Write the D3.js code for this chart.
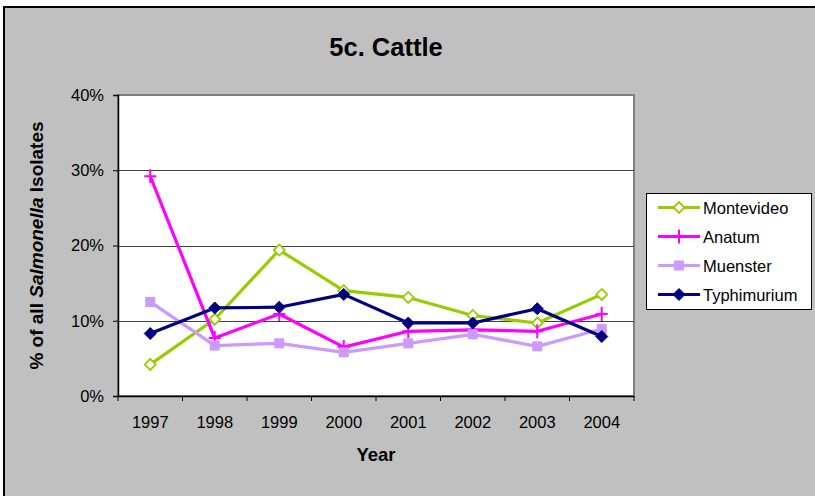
<!DOCTYPE html>
<html>
<head>
<meta charset="utf-8">
<script src="https://cdn.jsdelivr.net/npm/d3@7"></script>
<style>
  body { margin: 0; background: #ffffff; }
  text { font-family: "Liberation Sans", Arial, sans-serif; fill: #000; }
</style>
</head>
<body>
<div id="chart"></div>
<script>
// values (percent of all Salmonella isolates)
var years = ["1997", "1998", "1999", "2000", "2001", "2002", "2003", "2004"];
var montevideo = [4.2, 10.2, 19.4, 14.0, 13.1, 10.7, 9.7, 13.5];
var anatum = [29.2, 7.7, 10.9, 6.5, 8.6, 8.8, 8.6, 10.9];
var muenster = [12.5, 6.7, 7.0, 5.8, 7.0, 8.2, 6.6, 8.9];
var typhimurium = [8.3, 11.7, 11.8, 13.5, 9.7, 9.7, 11.6, 7.9];
var yTicks = [0, 10, 20, 30, 40];

var series = [
  {name: "Montevideo", values: montevideo, color: "#99CC00", marker: "diamondOpen"},
  {name: "Anatum", values: anatum, color: "#FF00FF", marker: "plus"},
  {name: "Muenster", values: muenster, color: "#CC99FF", marker: "square"},
  {name: "Typhimurium", values: typhimurium, color: "#000080", marker: "diamond"}
];

var W = 815, H = 496;
var plot = {left: 118, right: 634, top: 95, bottom: 396};

var svg = d3.select("#chart").append("svg")
    .attr("width", W)
    .attr("height", H);

// chart area (grey) with black border
svg.append("rect")
    .attr("x", 4).attr("y", 7)
    .attr("width", W + 10).attr("height", H + 10)
    .attr("fill", "#C0C0C0")
    .attr("stroke", "#000")
    .attr("stroke-width", 2);

var x = d3.scaleBand().domain(years).range([plot.left, plot.right]);
var y = d3.scaleLinear().domain([0, 40]).range([plot.bottom, plot.top]);
var cx = function(i) { return x(years[i]) + x.bandwidth() / 2; };

// plot area
svg.append("rect")
    .attr("x", plot.left).attr("y", plot.top)
    .attr("width", plot.right - plot.left).attr("height", plot.bottom - plot.top)
    .attr("fill", "#fff")
    .attr("stroke", "#808080")
    .attr("stroke-width", 2);

// gridlines
svg.append("g").selectAll("line")
    .data(yTicks.filter(function(d) { return d > 0 && d < 40; }))
    .enter().append("line")
    .attr("x1", plot.left).attr("x2", plot.right)
    .attr("y1", function(d) { return Math.round(y(d)) + 0.5; })
    .attr("y2", function(d) { return Math.round(y(d)) + 0.5; })
    .attr("stroke", "#404040")
    .attr("stroke-width", 1.2);

// Y axis
var yAxis = svg.append("g")
    .attr("transform", "translate(" + plot.left + ",0)")
    .call(d3.axisLeft(y).tickValues(yTicks).tickSize(5).tickPadding(9)
      .tickFormat(function(d) { return d + "%"; }));
yAxis.select(".domain").attr("stroke", "#000").attr("stroke-width", 1.5);
yAxis.selectAll(".tick line").attr("stroke", "#000");
yAxis.selectAll("text").style("font-size", "16.5px").style("font-family", "Liberation Sans, Arial, sans-serif");

// X axis
var xAxis = svg.append("g")
    .attr("transform", "translate(0," + plot.bottom + ")")
    .call(d3.axisBottom(x).tickSize(0).tickPadding(20));
xAxis.select(".domain").attr("stroke", "#000").attr("stroke-width", 1.5);
xAxis.selectAll("text").style("font-size", "16.5px").style("font-family", "Liberation Sans, Arial, sans-serif");
// tick marks on category boundaries
xAxis.selectAll("line.bound")
    .data(years.concat(["end"]))
    .enter().append("line")
    .attr("class", "bound")
    .attr("x1", function(d, i) { return i < years.length ? x(d) : plot.right; })
    .attr("x2", function(d, i) { return i < years.length ? x(d) : plot.right; })
    .attr("y1", 0).attr("y2", 5)
    .attr("stroke", "#000");

// Title
svg.append("text")
    .attr("x", 386).attr("y", 56)
    .attr("text-anchor", "middle")
    .style("font-size", "25.5px")
    .style("font-weight", "bold")
    .text("5c. Cattle");

// Axis titles
svg.append("text")
    .attr("x", (plot.left + plot.right) / 2).attr("y", 461)
    .attr("text-anchor", "middle")
    .style("font-size", "18.5px")
    .style("font-weight", "bold")
    .text("Year");

var yTitle = svg.append("text")
    .attr("transform", "translate(43," + ((plot.top + plot.bottom) / 2) + ") rotate(-90)")
    .attr("text-anchor", "middle")
    .style("font-size", "19px")
    .style("font-weight", "bold");
yTitle.append("tspan").text("% of all ");
yTitle.append("tspan").style("font-style", "italic").text("Salmonella");
yTitle.append("tspan").text(" Isolates");

// marker drawing
function drawMarker(g, type, color) {
  if (type === "diamondOpen") {
    g.append("path").attr("d", "M0,-5.5L5.5,0L0,5.5L-5.5,0Z")
      .attr("fill", "#fff").attr("stroke", color).attr("stroke-width", 1.8);
  } else if (type === "diamond") {
    g.append("path").attr("d", "M0,-6L6,0L0,6L-6,0Z")
      .attr("fill", color).attr("stroke", color).attr("stroke-width", 1);
  } else if (type === "square") {
    g.append("rect").attr("x", -5).attr("y", -5).attr("width", 10).attr("height", 10)
      .attr("fill", color);
  } else if (type === "plus") {
    g.append("path").attr("d", "M-6,0H6M0,-7V7")
      .attr("stroke", color).attr("stroke-width", 2);
  }
}

var line = d3.line()
    .x(function(d, i) { return cx(i); })
    .y(function(d) { return y(d); });

series.forEach(function(s) {
  var g = svg.append("g");
  g.append("path")
    .datum(s.values)
    .attr("d", line)
    .attr("fill", "none")
    .attr("stroke", s.color)
    .attr("stroke-width", 3.2)
    .attr("stroke-linejoin", "round");
  s.values.forEach(function(v, i) {
    var m = g.append("g").attr("transform", "translate(" + cx(i) + "," + y(v) + ")");
    drawMarker(m, s.marker, s.color);
  });
});

// Legend
var legend = svg.append("g");
legend.append("rect")
    .attr("x", 646.5).attr("y", 193.5)
    .attr("width", 165).attr("height", 116)
    .attr("fill", "#fff")
    .attr("stroke", "#000")
    .attr("stroke-width", 1);

series.forEach(function(s, i) {
  var ry = 207.5 + i * 29;
  var row = legend.append("g");
  row.append("line")
    .attr("x1", 658).attr("x2", 700)
    .attr("y1", ry).attr("y2", ry)
    .attr("stroke", s.color)
    .attr("stroke-width", 3.2);
  var m = row.append("g").attr("transform", "translate(679," + ry + ")");
  drawMarker(m, s.marker, s.color);
  row.append("text")
    .attr("x", 703).attr("y", ry + 6.5)
    .style("font-size", "16.5px")
    .text(s.name);
});
</script>
</body>
</html>
